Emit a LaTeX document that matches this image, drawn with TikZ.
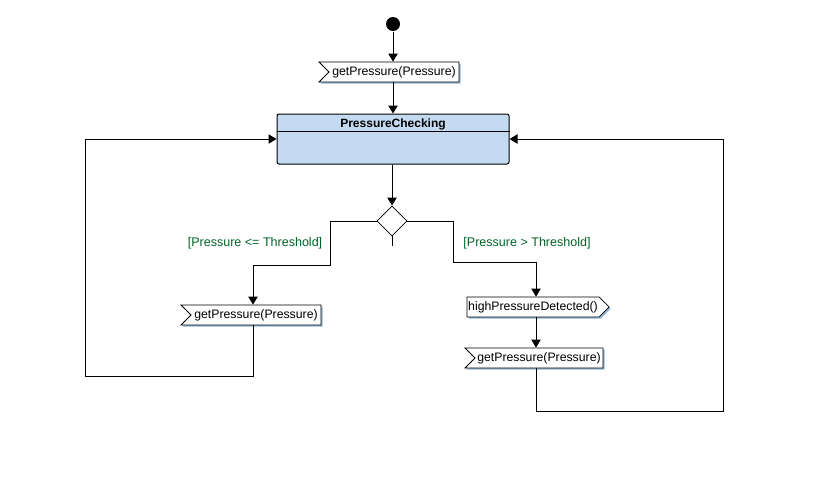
\documentclass[tikz,border=0pt]{standalone}
\usepackage{fontspec}
\setmainfont{Liberation Sans}
\usepackage{tikz}
\usetikzlibrary{arrows.meta,shapes.geometric,shapes.symbols,shadows}
\definecolor{UMLFill}{HTML}{C4DAF1}
\definecolor{UMLShadow}{HTML}{8FB8D4}
\definecolor{UMLGuard}{HTML}{006426}

\begin{document}
\begin{tikzpicture}[x=0.75pt,y=-0.75pt,>={Triangle[width=7pt,length=6pt]},
  line width=0.75pt,
  flow/.style={->},
  recvbox/.style={signal,signal to=nowhere,signal from=west,signal pointer angle=90,
    draw,fill=white,line width=0.6pt,minimum height=15pt,inner sep=1pt,
    font=\fontsize{9.2}{11}\selectfont,
    drop shadow={shadow xshift=1.2pt,shadow yshift=-1.2pt,fill=UMLShadow,opacity=1}},
  sendbox/.style={recvbox,signal to=east,signal from=nowhere},
  statebox/.style={draw,fill=UMLFill,rounded corners=1.5pt,minimum width=174pt,
    minimum height=37.5pt,line width=0.75pt},
  choice/.style={diamond,draw,fill=white,aspect=1,inner sep=0pt,minimum size=22.5pt,
    line width=0.6pt},
  guard/.style={text=UMLGuard,font=\fontsize{9.4}{11}\selectfont}]
  \useasboundingbox[fill=white] (0,0) rectangle (816,482);
  % initial state and first receive
  \node[circle,fill=black,inner sep=0pt,minimum size=10.5pt] (start) at (393,24) {};
  \node[recvbox,minimum width=105pt] (get1) at (394,72) {getPressure(Pressure)};
  \node[statebox] (check) at (393,139) {};
  \node[anchor=north,yshift=-3pt,minimum height=9.75pt,inner sep=0pt,
    font=\bfseries\fontsize{9}{11}\selectfont] (checktitle) at (check.north) {PressureChecking};
  \draw (check.west |- checktitle.south) -- (check.east |- checktitle.south);
  \node[choice] (dec) at (392,221) {};
  \coordinate (stub) at (392,246);
  % branches
  \coordinate (rcol) at (536,0);
  \node[recvbox,minimum width=105pt] (get2) at (256,315) {getPressure(Pressure)};
  \node[sendbox,minimum width=106.5pt] (high) at (533,307) {highPressureDetected()};
  \node[recvbox,minimum width=103.5pt] (get3) at (539,358) {getPressure(Pressure)};
  \node[guard] (gleft) at (255,243) {[Pressure <= Threshold]};
  \node[guard] (gright) at (527,243) {[Pressure > Threshold]};
  % connectors
  \draw[flow] (start) -- (get1.north -| start);
  \draw[flow] (get1.south -| start) -- (check.north -| start);
  \draw[flow] (check.south -| dec) -- (dec);
  \draw (dec.south) -- (stub);
  \draw[flow] (dec.west) -| (330,265) -| (get2.north -| 253,0);
  \draw[flow] (dec.east) -| (453,262) -| (high.north -| rcol);
  \draw[flow] (high.south -| rcol) -- (get3.north -| rcol);
  \draw[flow] (get2.south -| 253,0) |- (85,376) |- (check.west);
  \draw[flow] (get3.south -| rcol) |- (723,411) |- (check.east);
\end{tikzpicture}
\end{document}
